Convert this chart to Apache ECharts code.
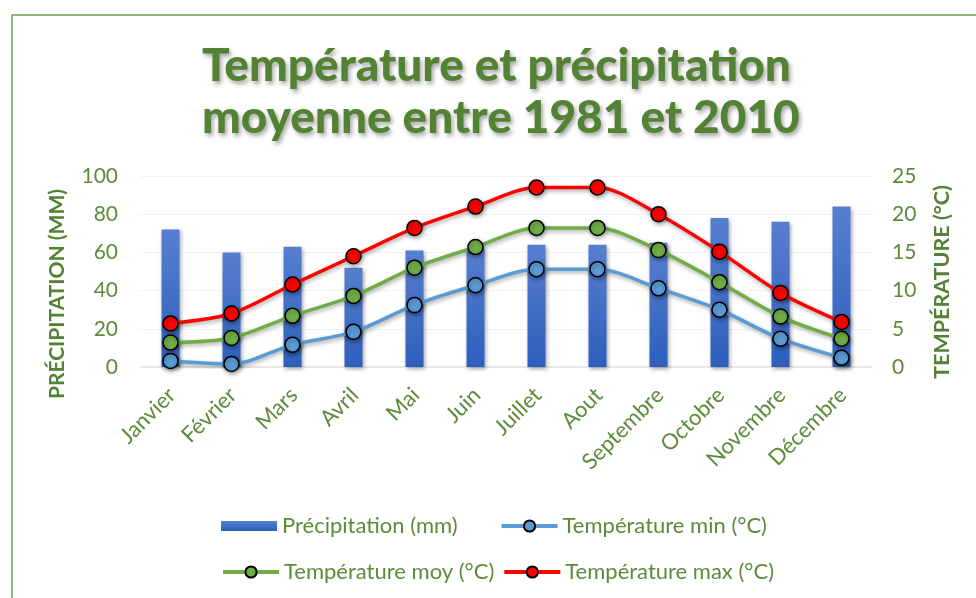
<!DOCTYPE html>
<html>
<head>
<meta charset="utf-8">
<script src="https://cdn.jsdelivr.net/npm/echarts@6/dist/echarts.min.js"></script>
<style>
  html, body { margin: 0; padding: 0; background: #fff; }
  #chart { width: 976px; height: 598px; }
</style>
</head>
<body>
<div id="chart"></div>
<script>
const months = ['Janvier', 'Février', 'Mars', 'Avril', 'Mai', 'Juin', 'Juillet', 'Aout', 'Septembre', 'Octobre', 'Novembre', 'Décembre']
const precipitation = [72, 60, 63, 52, 61, 62, 64, 64, 65, 78, 76, 84]
const tempMin = [0.8, 0.4, 2.9, 4.6, 8.1, 10.7, 12.8, 12.8, 10.3, 7.5, 3.7, 1.2]
const tempMoy = [3.2, 3.8, 6.7, 9.3, 13.0, 15.7, 18.2, 18.2, 15.3, 11.1, 6.6, 3.7]
const tempMax = [5.7, 7.0, 10.8, 14.5, 18.2, 21.0, 23.5, 23.5, 20.0, 15.1, 9.7, 5.9]

const green = '#5b8c3a'
const darkGreen = '#548235'
const font = 'Lato'

const lineSeries = (name, data, color) => ({
  name: name,
  type: 'line',
  yAxisIndex: 1,
  data: data,
  smooth: 0.3,
  symbol: 'circle',
  symbolSize: 15,
  lineStyle: {
    color: color,
    width: 3.5,
    shadowColor: 'rgba(0,0,0,0.35)',
    shadowBlur: 4,
    shadowOffsetX: 1,
    shadowOffsetY: 2,
  },
  itemStyle: {
    color: color,
    borderColor: '#000',
    borderWidth: 1.5,
    shadowColor: 'rgba(0,0,0,0.35)',
    shadowBlur: 4,
    shadowOffsetX: 1,
    shadowOffsetY: 2,
  },
})

const legendText = { color: green, fontFamily: font, fontSize: 22 }

const chart = echarts.init(document.getElementById('chart'))
chart.setOption({
  backgroundColor: '#fff',
  animation: false,
  title: {
    text: 'Température et précipitation\nmoyenne entre 1981 et 2010',
    left: 197,
    top: 35,
    padding: 5,
    textAlign: 'left',
    textStyle: {
      fontFamily: font,
      fontWeight: 900,
      fontSize: 46,
      lineHeight: 52,
      color: darkGreen,
      textShadowColor: 'rgba(0,0,0,0.35)',
      textShadowBlur: 4,
      textShadowOffsetX: 2,
      textShadowOffsetY: 3,
      align: 'center',
    },
  },
  graphic: [
    {
      type: 'rect',
      shape: { x: 12, y: 15, width: 1000, height: 620 },
      style: { fill: 'none', stroke: '#6f9e4f', lineWidth: 1.5 },
      silent: true,
    },
    {
      type: 'text',
      x: 57,
      y: 294,
      rotation: Math.PI / 2,
      style: {
        text: 'PRÉCIPITATION (MM)',
        fill: darkGreen,
        font: 'bold 21px Lato',
        align: 'center',
        verticalAlign: 'middle',
      },
    },
    {
      type: 'text',
      x: 942,
      y: 282,
      rotation: Math.PI / 2,
      style: {
        text: 'TEMPÉRATURE (°C)',
        fill: darkGreen,
        font: 'bold 21.5px Lato',
        align: 'center',
        verticalAlign: 'middle',
      },
    },
  ],
  legend: [
    {
      data: [
        { name: 'Précipitation (mm)', icon: 'path://M0,0h56v10h-56z' },
        'Température min (°C)',
      ],
      left: 216,
      top: 510,
      itemWidth: 56,
      itemHeight: 14,
      itemGap: 42,
      lineStyle: { width: 4 },
      textStyle: legendText,
    },
    {
      data: ['Température moy (°C)', 'Température max (°C)'],
      left: 216,
      top: 556,
      itemWidth: 56,
      itemHeight: 14,
      itemGap: 8,
      lineStyle: { width: 4 },
      textStyle: legendText,
    },
  ],
  grid: {
    left: 140,
    right: 104,
    top: 176,
    bottom: 231,
  },
  xAxis: {
    type: 'category',
    data: months,
    axisTick: { show: false },
    axisLine: { lineStyle: { color: '#e3e3e3', width: 1.5 } },
    axisLabel: {
      interval: 0,
      rotate: 45,
      margin: 26,
      padding: [0, -2, 0, 0],
      color: green,
      fontFamily: font,
      fontSize: 22,
    },
  },
  yAxis: [
    {
      type: 'value',
      min: 0,
      max: 100,
      interval: 20,
      axisLine: { show: false },
      axisTick: { show: false },
      splitLine: { lineStyle: { color: '#f3f3f3' } },
      axisLabel: { color: green, fontFamily: font, fontSize: 21, margin: 22 },
    },
    {
      type: 'value',
      min: 0,
      max: 25,
      interval: 5,
      axisLine: { show: false },
      axisTick: { show: false },
      splitLine: { show: false },
      axisLabel: { color: green, fontFamily: font, fontSize: 21, margin: 20 },
    },
  ],
  series: [
    {
      name: 'Précipitation (mm)',
      type: 'bar',
      data: precipitation,
      barWidth: 18,
      itemStyle: {
        color: new echarts.graphic.LinearGradient(0, 0, 0, 1, [
          { offset: 0, color: '#577fd0' },
          { offset: 1, color: '#2e5fbd' },
        ]),
        shadowColor: 'rgba(0,0,0,0.35)',
        shadowBlur: 4,
        shadowOffsetX: 1,
        shadowOffsetY: 2,
      },
    },
    lineSeries('Température min (°C)', tempMin, '#5b9bd5'),
    lineSeries('Température moy (°C)', tempMoy, '#70ad47'),
    lineSeries('Température max (°C)', tempMax, '#ff0000'),
  ],
})
</script>
</body>
</html>
